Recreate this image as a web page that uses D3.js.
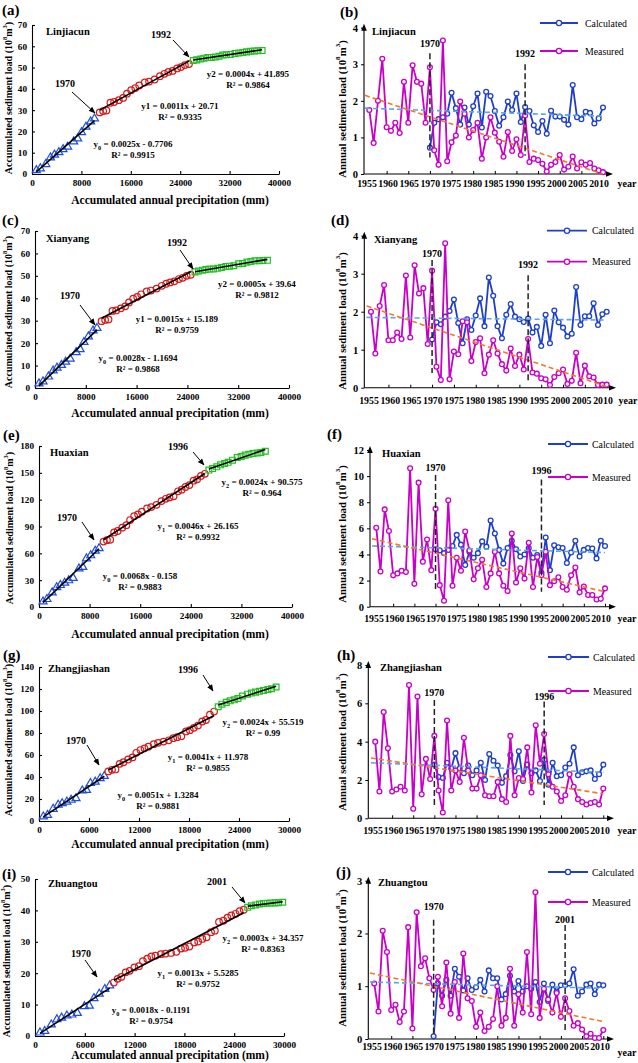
<!DOCTYPE html>
<html><head><meta charset="utf-8">
<script src="https://cdn.jsdelivr.net/npm/d3@7"></script>
<style>
body{margin:0;background:#fff;}
svg{display:block;font-family:"Liberation Serif","Times New Roman",serif;}
</style></head><body>
<svg id="c" width="638" height="1063"></svg>
<script>
// ================= DATA =================
const years = d3.range(1956, 2011);
const calcYears = d3.range(1970, 2011);
const yearTickLabels = ["1955","1960","1965","1970","1975","1980","1985","1990","1995","2000","2005","2010"];
const stationNames = ["Linjiacun","Xianyang","Huaxian","Zhangjiashan","Zhuangtou"];
const leftLetters = ["(a)","(c)","(e)","(g)","(i)"];
const rightLetters = ["(b)","(d)","(f)","(h)","(j)"];
const breakYears = [1992, 1992, 1996, 1996, 2001];
const breakLineYears = [1992, 1992, 1995, 1996, 2001];

const linjiacunMeasured = [1.75,0.85,2.0,3.15,1.28,1.18,1.4,1.12,2.52,1.4,2.97,2.52,2.47,1.4,
 2.92,0.65,0.25,3.65,0.35,0.87,1.05,1.98,1.65,1.0,1.2,1.4,0.42,1.0,1.55,1.13,0.88,0.47,1.15,0.63,0.95,0.52,
 1.6,0.33,0.42,0.38,0.28,0.07,0.25,0.33,0.52,0.12,0.2,0.48,0.15,0.32,0.25,0.3,0.15,0.1,0.05];
const linjiacunCalculated = [0.72,1.4,1.5,1.55,1.65,2.22,1.8,1.35,1.82,1.35,1.85,2.2,1.27,2.25,2.13,1.72,1.32,1.55,1.98,1.75,
 2.2,1.42,1.83,1.72,1.33,1.15,1.45,1.1,1.73,1.57,1.57,1.48,1.35,2.43,1.55,1.5,1.7,1.67,1.38,1.52,1.82];
const linjiacunPrecip = [700,650,880,760,640,720,680,740,980,640,630,720,760,620,
 840,560,540,640,600,760,700,620,680,660,640,900,700,900,860,720,640,680,740,620,640,660,
 700,560,620,540,620,580,640,600,620,560,660,760,620,640,600,620,640,580,680];

const xianyangMeasured = [2.0,0.9,2.15,2.7,1.25,1.25,1.45,1.28,2.95,1.32,3.22,2.48,2.62,1.15,
 3.08,0.55,0.2,3.8,0.22,0.95,0.88,1.75,1.72,0.7,1.2,1.3,0.38,0.87,1.25,0.9,0.62,0.45,1.03,0.57,0.87,0.48,
 1.28,0.4,0.37,0.25,0.22,0.07,0.28,0.38,0.48,0.1,0.18,0.92,0.12,0.58,0.3,0.27,0.07,0.08,0.08];
const xianyangCalculated = [1.27,1.72,1.67,1.87,2.02,2.32,1.7,1.17,1.8,1.52,1.9,2.35,1.62,2.9,2.42,1.62,1.3,1.92,2.2,1.87,
 1.8,1.73,1.82,1.45,1.6,1.1,1.92,1.17,2.03,1.72,1.58,1.35,1.42,2.65,1.65,1.88,1.88,2.22,1.65,1.93,2.0];
const xianyangPrecip = [620,640,860,740,600,700,660,720,950,620,600,700,740,610,
 720,560,540,620,580,740,680,600,660,640,620,860,680,880,820,700,620,660,720,600,620,640,
 680,560,620,540,620,580,660,620,640,580,680,780,640,660,620,640,660,600,700];

const huaxianMeasured = [6.05,2.7,7.45,5.8,2.4,2.55,2.75,2.65,10.6,1.75,9.5,3.45,5.15,2.8,
 7.5,1.65,0.45,8.15,1.6,3.75,2.75,5.75,4.3,2.1,2.95,3.6,1.5,2.55,4.2,2.55,1.6,1.2,5.6,1.85,2.95,2.15,4.9,1.5,3.8,2.4,
 4.2,1.65,1.95,2.25,1.5,1.3,2.4,3.0,1.1,1.55,0.9,0.9,0.55,0.6,1.4];
const huaxianCalculated = [4.4,4.3,4.1,4.35,4.65,5.5,4.75,3.2,4.2,3.75,4.1,5.0,4.6,6.6,5.6,4.35,3.3,4.5,5.05,4.4,
 3.85,4.0,4.5,3.75,3.95,2.6,5.3,2.8,4.7,4.55,4.5,3.35,4.15,5.05,3.85,4.35,4.5,4.45,3.7,5.05,4.65];
const huaxianPrecip = [640,620,820,720,580,680,640,700,920,600,580,680,720,600,
 700,540,520,620,560,720,660,580,640,620,600,820,660,840,780,680,600,640,700,580,600,620,660,560,600,620,
 640,580,660,600,640,560,680,760,620,640,600,640,660,580,700];

const zhangjiashanMeasured = [4.0,1.4,5.55,3.65,1.4,1.5,1.65,1.45,6.95,0.5,6.35,1.25,3.1,2.05,
 4.3,1.45,0.3,5.1,1.45,2.5,1.9,4.2,2.5,1.55,1.55,2.25,1.2,1.15,1.15,1.9,1.0,0.85,4.3,1.2,2.1,2.05,3.7,1.35,4.85,2.85,
 4.4,2.3,1.65,1.4,0.9,1.2,2.3,1.65,1.0,0.85,0.72,0.8,0.85,0.72,1.55];
const zhangjiashanCalculated = [2.8,2.15,2.1,2.9,2.6,3.4,2.6,2.35,2.75,2.25,2.5,2.9,2.0,3.35,3.0,2.75,1.85,2.2,3.3,2.45,
 3.5,1.95,2.8,2.35,2.5,1.95,3.05,1.75,2.9,2.2,2.25,2.65,2.85,3.7,2.25,2.4,2.45,2.5,2.05,2.3,2.8];
const zhangjiashanPrecip = [520,500,680,600,480,560,520,580,760,500,480,560,600,500,
 480,440,420,500,460,560,520,460,500,480,470,640,520,660,620,540,470,500,560,460,480,490,520,440,480,500,
 500,440,520,460,500,440,540,600,480,500,460,500,520,440,540];

const zhuangtouMeasured = [1.05,0.52,2.05,1.65,0.55,0.65,0.32,0.52,2.12,0.2,2.4,1.38,1.53,1.15,
 0.93,1.18,0.62,1.45,0.48,1.08,0.4,1.62,0.77,0.72,0.23,0.5,0.15,0.23,0.38,1.0,0.25,0.4,1.33,0.25,
 0.85,0.5,1.65,0.47,2.78,0.4,0.95,0.75,0.5,0.87,0.42,
 0.77,0.53,0.25,0.3,0.18,0.05,0.1,0.02,0.02,0.17];
const zhuangtouCalculated = [0.05,1.05,0.82,1.12,0.82,1.33,1.18,0.92,1.15,0.93,0.98,1.12,0.9,1.3,1.15,1.15,0.75,0.85,1.2,0.9,
 1.1,0.9,1.0,0.95,1.08,0.7,1.05,0.72,1.03,0.9,1.02,1.02,1.05,1.32,0.82,0.9,1.03,1.05,0.85,1.03,1.02];
const zhuangtouPrecip = [600,580,780,680,560,640,600,660,860,580,560,640,680,580,
 500,460,440,520,480,580,540,480,520,500,490,660,540,680,640,560,490,520,580,480,500,510,540,460,500,520,500,460,520,480,500,
 480,440,520,460,480,440,460,480,440,490];

const fitEquations = [
 ["y_0 = 0.0025x - 0.7706","y1 = 0.0011x + 20.71","y2 = 0.0004x + 41.895"],
 ["y_0 = 0.0028x - 1.1694","y1 = 0.0015x + 15.189","y2 = 0.0005x + 39.64"],
 ["y_0 = 0.0068x - 0.158","y_1 = 0.0046x + 26.165","y_2 = 0.0024x + 90.575"],
 ["y_0 = 0.0051x + 1.3284","y_1 = 0.0041x + 11.978","y_2 = 0.0024x + 55.519"],
 ["y_0 = 0.0018x - 0.1191","y_1 = 0.0013x + 5.5285","y_2 = 0.0003x + 34.357"]];
const fitR2 = [["0.9915","0.9335","0.9864"],["0.9868","0.9759","0.9812"],["0.9883","0.9932","0.964"],
 ["0.9881","0.9855","0.99"],["0.9754","0.9752","0.8363"]];

const trendMeasured = [[2.15,0.0],[2.15,0.03],[5.2,1.15],[3.15,1.28],[1.25,0.33]];   // values at 1955, 2010
const trendCalculated = [[1.8,1.58],[1.85,1.78],[4.65,4.15],[2.9,2.4],[1.08,0.96]];

const accYMax = [70,70,180,140,50], accYStep = [10,10,30,20,10];
const precipXMax = [40000,40000,40000,30000,30000], precipXStep = [8000,8000,8000,6000,6000];
const annualYMax = [4,4,12,8,3], annualYStep = [1,1,2,2,1];

const stations = [
 {measured: linjiacunMeasured, calculated: linjiacunCalculated, precip: linjiacunPrecip},
 {measured: xianyangMeasured, calculated: xianyangCalculated, precip: xianyangPrecip},
 {measured: huaxianMeasured, calculated: huaxianCalculated, precip: huaxianPrecip},
 {measured: zhangjiashanMeasured, calculated: zhangjiashanCalculated, precip: zhangjiashanPrecip},
 {measured: zhuangtouMeasured, calculated: zhuangtouCalculated, precip: zhuangtouPrecip}];

// ================= LAYOUT =================
const leftLayout = [
 {x0:32,x1:279,yT:25,yB:174, letter:[2,10], name:[46,31], xTitle:[170,200], yTitle:[8,98], a70:{t:[65,83],p:[72,92,95,113]}, aBr:{t:[161,34],p:[173,40,189,57]}, eq:[[133,144],[180,106],[248,74]]},
 {x0:35,x1:289,yT:231,yB:388, letter:[2,220], name:[46,238], xTitle:[170,413], yTitle:[8,312], a70:{t:[70,295],p:[80,305,95,325]}, aBr:{t:[177,242],p:[180,250,193,269]}, eq:[[138,358],[177,319],[257,284]]},
 {x0:39,x1:292,yT:446,yB:607, letter:[3,435], name:[50,452], xTitle:[170,634], yTitle:[9,528], a70:{t:[67,517],p:[82,522,94,540]}, aBr:{t:[178,446],p:[193,452,204,465]}, eq:[[140,576],[198,526],[262,482]]},
 {x0:39,x1:289,yT:667,yB:821, letter:[3,655], name:[48,668], xTitle:[170,844], yTitle:[8,740], a70:{t:[76,740],p:[87,745,99,765]}, aBr:{t:[188,669],p:[203,675,213,691]}, eq:[[158,795],[208,757],[263,722]]},
 {x0:35,x1:284,yT:879,yB:1036, letter:[2,874], name:[48,883], xTitle:[170,1055], yTitle:[6,961], a70:{t:[81,953],p:[85,960,97,977]}, aBr:{t:[217,881],p:[232,887,245,903]}, eq:[[151,1010],[198,973],[263,938]]}];

const rightLayout = [
 {ax:364,x0:365,x1:603,yT:27.7,yB:174,axEnd:609,letter:[340,12],name:[372,31],yTitle:[342,109],tick:[367,599],tickY:183,yearLbl:[627,183],leg:{cy:23,my:51,x1:540,x2:578,tx:585},vl:[[3.3,0.45],[3.0,0.5]],vlOff:[10,11]},
 {ax:364.3,x0:366.6,x1:606.7,yT:235.7,yB:387.7,axEnd:612,letter:[331,220],name:[374,239],yTitle:[342,321],tick:[369,603],tickY:400,yearLbl:[628,400],leg:{cy:230.7,my:261.7,x1:547,x2:587,tx:592},vl:[[3.36,0.39],[2.96,0.16]],vlOff:[7,11]},
 {ax:370,x0:372,x1:605,yT:450,yB:606.7,axEnd:612,letter:[327,434],name:[382,453],yTitle:[342,534],tick:[374,601],tickY:618,yearLbl:[627,618],leg:{cy:444,my:477,x1:548,x2:588,tx:592},vl:[[10.08,1.28],[9.75,1.15]],vlOff:[8,9]},
 {ax:368.3,x0:371,x1:603.3,yT:665,yB:818.3,axEnd:610,letter:[337,655],name:[380,667],yTitle:[342,742],tick:[373,600],tickY:830,yearLbl:[627,830],leg:{cy:657,my:691,x1:548,x2:589,tx:593},vl:[[6.17,0.7],[6.09,0.7]],vlOff:[8,5]},
 {ax:368.3,x0:370,x1:603.3,yT:880.7,yB:1039,axEnd:610,letter:[336,872],name:[378,882],yTitle:[342,958],tick:[372,600],tickY:1046,yearLbl:[627,1052],leg:{cy:872,my:902,x1:548,x2:588,tx:592},vl:[[2.26,0.04],[2.16,0.17]],vlOff:[13,6]}];

const COL = {blueTri:"#1f4fd8", redCirc:"#d41a1a", greenSq:"#22c022", calc:"#1f3fc8", meas:"#c800c8", orange:"#f07a2a", lblue:"#5aa6e0"};

// ================= DRAW =================
const svg = d3.select("#c");
svg.append("rect").attr("width",638).attr("height",1063).attr("fill","#fff");
const defs = svg.append("defs");
defs.append("marker").attr("id","arr").attr("viewBox","0 0 10 10").attr("refX",9).attr("refY",5)
  .attr("markerWidth",7).attr("markerHeight",7).attr("orient","auto")
  .append("path").attr("d","M0,1 L10,5 L0,9 Z").attr("fill","#000");

function titleWithUnits(sel, prefix){
  sel.append("tspan").text(prefix + " (10");
  sel.append("tspan").attr("baseline-shift","super").attr("font-size","65%").text("8");
  sel.append("tspan").text("m");
  sel.append("tspan").attr("baseline-shift","super").attr("font-size","65%").text("3");
  sel.append("tspan").text(")");
}
function eqText(sel, s){
  if (s.indexOf("_") >= 0){
    const m = s.match(/^y_(\d)(.*)$/);
    sel.append("tspan").text("y");
    sel.append("tspan").attr("baseline-shift","sub").attr("font-size","70%").text(m[1]);
    sel.append("tspan").text(m[2]);
  } else sel.text(s);
}
function linFit(pts){
  const mx = d3.mean(pts, d => d.x), my = d3.mean(pts, d => d.y);
  const sxy = d3.sum(pts, d => (d.x-mx)*(d.y-my)), sxx = d3.sum(pts, d => (d.x-mx)*(d.x-mx));
  const b = sxy/sxx; return {b, a: my - b*mx};
}

function drawLeft(i){
  const L = leftLayout[i], st = stations[i];
  const x = d3.scaleLinear().domain([0, precipXMax[i]]).range([L.x0, L.x1]);
  const y = d3.scaleLinear().domain([0, accYMax[i]]).range([L.yB, L.yT]);
  const g = svg.append("g");
  const ax = g.append("g").attr("transform",`translate(0,${L.yB})`)
    .call(d3.axisBottom(x).tickValues(d3.range(0, precipXMax[i]+1, precipXStep[i])).tickSize(-3).tickSizeOuter(0).tickPadding(5).tickFormat(d3.format("d")));
  const ay = g.append("g").attr("transform",`translate(${L.x0},0)`)
    .call(d3.axisLeft(y).tickValues(d3.range(0, accYMax[i]+0.001, accYStep[i])).tickSize(-3).tickSizeOuter(0).tickPadding(5).tickFormat(d3.format("d")));
  [ax, ay].forEach(a => { a.selectAll("text").attr("font-family","Liberation Serif").attr("font-weight","bold").attr("font-size",9.2).attr("fill","#000");
    a.selectAll("line,path").attr("stroke","#000").attr("stroke-width",1.1); });

  const cx = d3.cumsum(st.precip), cy = d3.cumsum(st.measured);
  const pts = years.map((yr, k) => ({yr, x: cx[k], y: cy[k], p: yr < 1970 ? 0 : (yr < breakYears[i] ? 1 : 2)}));
  const tri = d3.symbol(d3.symbolTriangle, 28)(), sq = d3.symbol(d3.symbolSquare, 34)();
  g.selectAll(".p0").data(pts.filter(d => d.p === 0)).join("path").attr("d", tri)
    .attr("transform", d => `translate(${x(d.x)},${y(d.y)})`).attr("fill","none").attr("stroke",COL.blueTri).attr("stroke-width",1.2);
  g.selectAll(".p1").data(pts.filter(d => d.p === 1)).join("circle")
    .attr("cx", d => x(d.x)).attr("cy", d => y(d.y)).attr("r",3.3).attr("fill","none").attr("stroke",COL.redCirc).attr("stroke-width",1.2);
  g.selectAll(".p2").data(pts.filter(d => d.p === 2)).join("path").attr("d", sq)
    .attr("transform", d => `translate(${x(d.x)},${y(d.y)})`).attr("fill","none").attr("stroke",COL.greenSq).attr("stroke-width",1.2);
  [0,1,2].forEach(p => {
    const seg = pts.filter(d => d.p === p);
    const f = linFit(seg);
    const xe = d3.extent(seg, d => d.x);
    g.append("line").attr("x1", x(xe[0])).attr("y1", y(f.a + f.b*xe[0])).attr("x2", x(xe[1])).attr("y2", y(f.a + f.b*xe[1]))
      .attr("stroke","#000").attr("stroke-width",1.6);
  });
  [0,1,2].forEach(p => {
    const c = L.eq[p];
    const t = g.append("text").attr("x", c[0]).attr("y", c[1]).attr("text-anchor","middle").attr("dominant-baseline","central")
      .attr("font-weight","bold").attr("font-size",9);
    eqText(t, fitEquations[i][p]);
    g.append("text").attr("x", c[0]).attr("y", c[1]+11).attr("text-anchor","middle").attr("dominant-baseline","central")
      .attr("font-weight","bold").attr("font-size",9).text("R² = " + fitR2[i][p]);
  });
  [[L.a70, "1970"], [L.aBr, String(breakYears[i])]].forEach(([a, lbl]) => {
    g.append("text").attr("x", a.t[0]).attr("y", a.t[1]).attr("text-anchor","middle").attr("dominant-baseline","central")
      .attr("font-weight","bold").attr("font-size",10).text(lbl);
    g.append("line").attr("x1",a.p[0]).attr("y1",a.p[1]).attr("x2",a.p[2]).attr("y2",a.p[3])
      .attr("stroke","#000").attr("stroke-width",1).attr("marker-end","url(#arr)");
  });
  g.append("text").attr("x", L.letter[0]).attr("y", L.letter[1]).attr("dominant-baseline","central")
    .attr("font-weight","bold").attr("font-size",15).text(leftLetters[i]);
  g.append("text").attr("x", L.name[0]).attr("y", L.name[1]).attr("dominant-baseline","central")
    .attr("font-weight","bold").attr("font-size",10.5).text(stationNames[i]);
  g.append("text").attr("x", L.xTitle[0]).attr("y", L.xTitle[1]).attr("text-anchor","middle").attr("dominant-baseline","central")
    .attr("font-weight","bold").attr("font-size",11.5).text("Accumulated annual precipitation (mm)");
  const yt = g.append("text").attr("transform",`translate(${L.yTitle[0]},${L.yTitle[1]}) rotate(-90)`)
    .attr("text-anchor","middle").attr("dominant-baseline","central").attr("font-weight","bold").attr("font-size",10);
  titleWithUnits(yt, "Accumulated sediment load");
}

function drawRight(i){
  const R = rightLayout[i], st = stations[i];
  const x = d3.scaleLinear().domain([1955, 2010]).range([R.x0, R.x1]);
  const y = d3.scaleLinear().domain([0, annualYMax[i]]).range([R.yB, R.yT]);
  const xl = d3.scalePoint().domain(yearTickLabels).range(R.tick);
  const g = svg.append("g");
  g.append("line").attr("x1", R.ax).attr("y1", R.yB).attr("x2", R.ax).attr("y2", R.yT).attr("stroke","#000").attr("stroke-width",1.1);
  g.append("path").attr("d", `M${R.ax},${R.yT-4} L${R.ax-2.8},${R.yT+3} L${R.ax+2.8},${R.yT+3} Z`).attr("fill","#000");
  g.append("line").attr("x1", R.ax).attr("y1", R.yB).attr("x2", R.axEnd).attr("y2", R.yB).attr("stroke","#000").attr("stroke-width",1.1);
  g.append("path").attr("d", `M${R.axEnd+4},${R.yB} L${R.axEnd-3},${R.yB-2.8} L${R.axEnd-3},${R.yB+2.8} Z`).attr("fill","#000");
  const ay = g.append("g").attr("transform",`translate(${R.ax},0)`)
    .call(d3.axisLeft(y).tickValues(d3.range(0, annualYMax[i]+0.001, annualYStep[i])).tickSize(3).tickPadding(3).tickFormat(d3.format("d")));
  ay.select(".domain").remove();
  const ax = g.append("g").attr("transform",`translate(0,${R.yB})`)
    .call(d3.axisBottom(x).tickValues(d3.range(1960, 2011, 5)).tickSize(-3).tickFormat(""));
  ax.select(".domain").remove();
  [ax, ay].forEach(a => { a.selectAll("line").attr("stroke","#000");
    a.selectAll("text").attr("font-family","Liberation Serif").attr("font-weight","bold").attr("font-size",10.5).attr("fill","#000"); });
  g.selectAll(".xl").data(yearTickLabels).join("text").attr("x", d => xl(d)).attr("y", R.tickY)
    .attr("text-anchor","middle").attr("dominant-baseline","central").attr("font-weight","bold").attr("font-size",9.8).text(d => d);
  g.append("text").attr("x", R.yearLbl[0]).attr("y", R.yearLbl[1]).attr("text-anchor","middle").attr("dominant-baseline","central")
    .attr("font-weight","bold").attr("font-size",10).text("year");

  const calc = calcYears.map((yr, k) => ({yr, v: st.calculated[k]}));
  const meas = years.map((yr, k) => ({yr, v: st.measured[k]}));
  const line = d3.line().x(d => x(d.yr)).y(d => y(d.v));
  g.append("path").datum(calc).attr("d", line).attr("fill","none").attr("stroke",COL.calc).attr("stroke-width",1.8);
  g.selectAll(".cc").data(calc).join("circle").attr("cx", d => x(d.yr)).attr("cy", d => y(d.v)).attr("r",2.4)
    .attr("fill","#fff").attr("stroke",COL.calc).attr("stroke-width",1.3);
  g.append("path").datum(meas).attr("d", line).attr("fill","none").attr("stroke",COL.meas).attr("stroke-width",1.8);
  g.selectAll(".mc").data(meas).join("circle").attr("cx", d => x(d.yr)).attr("cy", d => y(d.v)).attr("r",2.4)
    .attr("fill","#fff").attr("stroke",COL.meas).attr("stroke-width",1.3);
  [[trendCalculated[i], COL.lblue], [trendMeasured[i], COL.orange]].forEach(([t, c]) => {
    g.append("line").attr("x1", x(1955)).attr("y1", y(t[0])).attr("x2", x(2010)).attr("y2", y(t[1]))
      .attr("stroke", c).attr("stroke-width",1.6).attr("stroke-dasharray","5,3");
  });
  [[1970, "1970", R.vl[0], R.vlOff[0]], [breakLineYears[i], String(breakYears[i]), R.vl[1], R.vlOff[1]]].forEach(([yr, lbl, ext, off]) => {
    g.append("line").attr("x1", x(yr)).attr("x2", x(yr)).attr("y1", y(ext[0])).attr("y2", y(ext[1]))
      .attr("stroke","#222").attr("stroke-width",1.5).attr("stroke-dasharray","6,3");
    g.append("text").attr("x", x(yr)).attr("y", y(ext[0]) - off).attr("text-anchor","middle").attr("dominant-baseline","central")
      .attr("font-weight","bold").attr("font-size",10).text(lbl);
  });
  [[R.leg.cy, COL.calc, "Calculated"], [R.leg.my, COL.meas, "Measured"]].forEach(([ly, c, lbl]) => {
    g.append("line").attr("x1", R.leg.x1).attr("x2", R.leg.x2).attr("y1", ly).attr("y2", ly).attr("stroke", c).attr("stroke-width",1.8);
    g.append("circle").attr("cx", (R.leg.x1+R.leg.x2)/2).attr("cy", ly).attr("r",2.6).attr("fill","#fff").attr("stroke",c).attr("stroke-width",1.3);
    g.append("text").attr("x", R.leg.tx).attr("y", ly).attr("dominant-baseline","central").attr("font-size",9.8).text(lbl);
  });
  g.append("text").attr("x", R.letter[0]).attr("y", R.letter[1]).attr("dominant-baseline","central")
    .attr("font-weight","bold").attr("font-size",15).text(rightLetters[i]);
  g.append("text").attr("x", R.name[0]).attr("y", R.name[1]).attr("dominant-baseline","central")
    .attr("font-weight","bold").attr("font-size",10.5).text(stationNames[i]);
  const yt = g.append("text").attr("transform",`translate(${R.yTitle[0]},${R.yTitle[1]}) rotate(-90)`)
    .attr("text-anchor","middle").attr("dominant-baseline","central").attr("font-weight","bold").attr("font-size",10.8);
  titleWithUnits(yt, "Annual sediment load");
}

d3.range(5).forEach(i => { drawLeft(i); drawRight(i); });
</script>
</body></html>
